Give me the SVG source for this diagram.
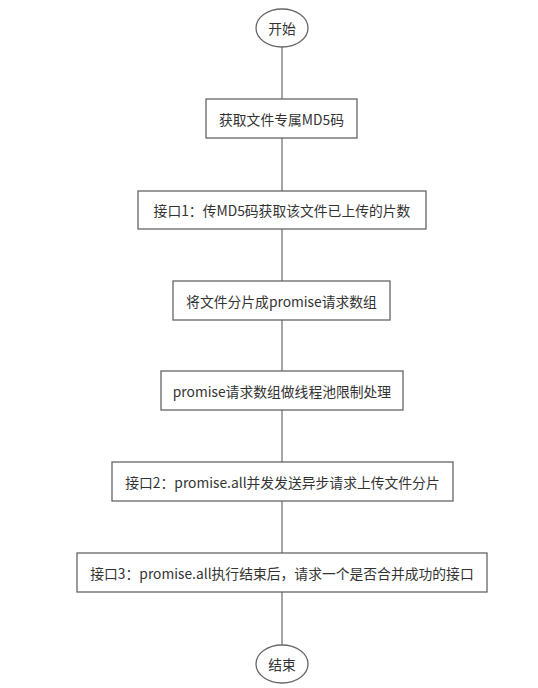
<svg xmlns="http://www.w3.org/2000/svg" width="538" height="688" viewBox="0 0 538 688">
<style>
.n{fill:#fff;stroke:#666;stroke-width:1.3}
.t{font-family:"Noto Sans CJK SC","Noto Sans",sans-serif;font-size:13.8px;fill:#333;text-anchor:middle;dominant-baseline:central}
.c{stroke:#888;stroke-width:1.5;fill:none}
</style>
<rect width="538" height="688" fill="#fff"/>
<g id="connectors">
<line class="c" x1="282" y1="47" x2="282" y2="99"/>
<line class="c" x1="282" y1="138" x2="282" y2="191"/>
<line class="c" x1="282" y1="229" x2="282" y2="281"/>
<line class="c" x1="282" y1="320" x2="282" y2="371"/>
<line class="c" x1="282" y1="410" x2="282" y2="462"/>
<line class="c" x1="282" y1="501" x2="282" y2="553"/>
<line class="c" x1="282" y1="592" x2="282" y2="645"/>
</g>
<g id="start"><ellipse class="n" cx="282" cy="28" rx="26" ry="19"/><text class="t" x="282" y="28">开始</text></g>
<g id="n1"><rect class="n" x="206" y="99" width="151" height="39"/><text class="t" x="281.5" y="118.5">获取文件专属MD5码</text></g>
<g id="n2"><rect class="n" x="138" y="191" width="288" height="38"/><text class="t" x="282" y="210">接口1：传MD5码获取该文件已上传的片数</text></g>
<g id="n3"><rect class="n" x="173" y="281" width="217" height="39"/><text class="t" x="281.5" y="300.5">将文件分片成promise请求数组</text></g>
<g id="n4"><rect class="n" x="161" y="371" width="242" height="39"/><text class="t" x="282" y="390.5">promise请求数组做线程池限制处理</text></g>
<g id="n5"><rect class="n" x="112" y="462" width="341" height="39"/><text class="t" x="282.5" y="481.5">接口2：promise.all并发发送异步请求上传文件分片</text></g>
<g id="n6"><rect class="n" x="77" y="553" width="410" height="39"/><text class="t" x="282" y="572.5">接口3：promise.all执行结束后，请求一个是否合并成功的接口</text></g>
<g id="end"><ellipse class="n" cx="282" cy="664" rx="26" ry="19"/><text class="t" x="282" y="664">结束</text></g>
</svg>
